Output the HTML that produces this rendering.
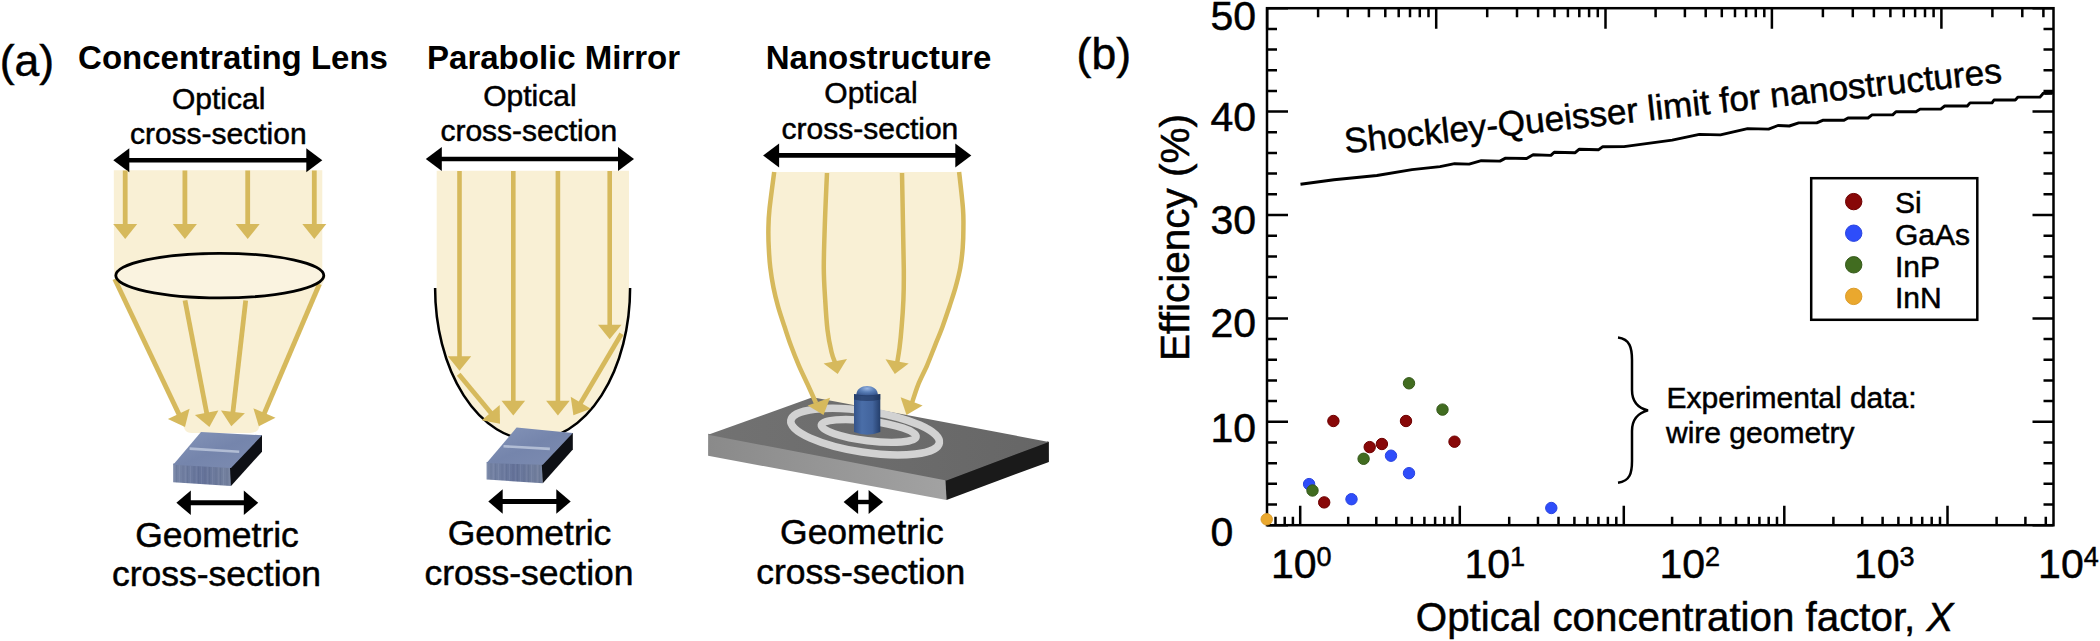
<!DOCTYPE html>
<html><head><meta charset="utf-8"><title>Optical concentration</title>
<style>html,body{margin:0;padding:0;background:#fff;width:2100px;height:641px;overflow:hidden}svg{display:block}text{stroke:#000;stroke-width:0.5px}text[font-weight=bold]{stroke-width:0}</style>
</head><body>
<svg width="2100" height="641" viewBox="0 0 2100 641" font-family="&apos;Liberation Sans&apos;, Arial, sans-serif">
<defs>
<linearGradient id="cellTop" x1="0" y1="0" x2="1" y2="1">
<stop offset="0" stop-color="#8595b9"/><stop offset="0.5" stop-color="#7585ac"/><stop offset="1" stop-color="#7d8cb1"/></linearGradient>
<linearGradient id="cellFront" x1="0" y1="0" x2="1" y2="0">
<stop offset="0" stop-color="#7886a6"/><stop offset="0.5" stop-color="#65739a"/><stop offset="1" stop-color="#76839f"/></linearGradient>
<pattern id="streak" width="11" height="40" patternUnits="userSpaceOnUse">
<rect x="0" y="0" width="1.3" height="40" fill="#3c4a6e" opacity="0.14"/><rect x="3" y="0" width="1" height="40" fill="#c0cae0" opacity="0.12"/><rect x="6.2" y="0" width="1.6" height="40" fill="#3c4a6e" opacity="0.1"/><rect x="9" y="0" width="0.8" height="40" fill="#c0cae0" opacity="0.1"/></pattern>
<linearGradient id="slabTop" x1="0" y1="0" x2="1" y2="0">
<stop offset="0" stop-color="#727272"/><stop offset="1" stop-color="#666666"/></linearGradient>
<linearGradient id="slabFront" x1="0" y1="0" x2="1" y2="0">
<stop offset="0" stop-color="#8a8a8a"/><stop offset="1" stop-color="#a2a2a2"/></linearGradient>
<linearGradient id="pillar" x1="0" y1="0" x2="1" y2="0">
<stop offset="0" stop-color="#34538a"/><stop offset="0.3" stop-color="#4a6ea8"/><stop offset="0.7" stop-color="#42649d"/><stop offset="1" stop-color="#243e6b"/></linearGradient>
<radialGradient id="dome" cx="0.5" cy="0.25" r="0.75">
<stop offset="0" stop-color="#9ab6e2"/><stop offset="0.45" stop-color="#5a7fb8"/><stop offset="1" stop-color="#34528a"/></radialGradient>
</defs>
<rect width="2100" height="641" fill="#fff"/>
<text x="-0.3" y="75.5" font-size="44.5" text-anchor="start" font-weight="normal" >(a)</text>
<text x="1076.6" y="69.4" font-size="44.5" text-anchor="start" font-weight="normal" >(b)</text>
<text x="233" y="68.5" font-size="33" text-anchor="middle" font-weight="bold" >Concentrating Lens</text>
<text x="218.7" y="109.3" font-size="30" text-anchor="middle" font-weight="normal" >Optical</text>
<text x="218.3" y="144.4" font-size="30" text-anchor="middle" font-weight="normal" >cross-section</text>
<path d="M113.8,170.2 H322.3 V276 L326,276 L258,430 Q255,433 250,433 H192 Q187,433 185,430 L114,276 Z" fill="#F9F0D5"/>
<line x1="128.3" y1="160.3" x2="307.3" y2="160.3" stroke="#000" stroke-width="4.6"/><polygon points="113.3,160.3 129.3,148.3 129.3,172.3" fill="#000"/><polygon points="322.3,160.3 306.3,148.3 306.3,172.3" fill="#000"/>
<line x1="125.2" y1="170.5" x2="125.2" y2="226.0" stroke="#D6B95C" stroke-width="4.8"/><polygon points="125.2,239.0 113.2,224.0 137.2,224.0" fill="#D6B95C"/>
<line x1="184.9" y1="170.5" x2="184.9" y2="226.0" stroke="#D6B95C" stroke-width="4.8"/><polygon points="184.9,239.0 172.9,224.0 196.9,224.0" fill="#D6B95C"/>
<line x1="247.7" y1="170.5" x2="247.7" y2="226.0" stroke="#D6B95C" stroke-width="4.8"/><polygon points="247.7,239.0 235.7,224.0 259.7,224.0" fill="#D6B95C"/>
<line x1="314.3" y1="170.5" x2="314.3" y2="226.0" stroke="#D6B95C" stroke-width="4.8"/><polygon points="314.3,239.0 302.3,224.0 326.3,224.0" fill="#D6B95C"/>
<line x1="114.7" y1="279.0" x2="179.6" y2="415.6" stroke="#D6B95C" stroke-width="4.8"/><polygon points="185.0,426.9 167.9,419.0 189.6,408.7" fill="#D6B95C"/>
<line x1="185.0" y1="300.4" x2="207.0" y2="414.6" stroke="#D6B95C" stroke-width="4.8"/><polygon points="209.4,426.9 194.9,414.9 218.4,410.4" fill="#D6B95C"/>
<line x1="245.7" y1="300.4" x2="232.7" y2="413.9" stroke="#D6B95C" stroke-width="4.8"/><polygon points="231.3,426.3 221.0,410.5 244.9,413.3" fill="#D6B95C"/>
<line x1="319.4" y1="284.0" x2="263.7" y2="414.8" stroke="#D6B95C" stroke-width="4.8"/><polygon points="258.8,426.3 253.4,408.3 275.5,417.7" fill="#D6B95C"/>
<ellipse cx="219.8" cy="275.6" rx="104" ry="22.3" fill="#FAF3E0" stroke="#000" stroke-width="2.8"/>
<polygon points="173.2,463.6 231,466.8 231,486 173.2,482.2" fill="url(#cellFront)"/><polygon points="173.2,464.8 231,468 231,486 173.2,482.2" fill="url(#streak)"/><polygon points="230,468 261,435.3 262,435.3 262,451.7 231,486" fill="#0e1015"/><polygon points="173.2,464.8 201,432 262,435.3 231,468" fill="url(#cellTop)"/><line x1="189.6" y1="448.6" x2="239.2" y2="451.7" stroke="#c5cfe2" stroke-width="2.6" opacity="0.75"/>
<line x1="189.8" y1="502.8" x2="244.79999999999998" y2="502.8" stroke="#000" stroke-width="5"/><polygon points="176.4,502.8 190.8,490.5 190.8,515.1" fill="#000"/><polygon points="258.2,502.8 243.79999999999998,490.5 243.79999999999998,515.1" fill="#000"/>
<text x="217" y="546.5" font-size="35.5" text-anchor="middle" font-weight="normal" >Geometric</text>
<text x="216.5" y="585.8" font-size="35.5" text-anchor="middle" font-weight="normal" >cross-section</text>
<text x="553.6" y="68.5" font-size="33" text-anchor="middle" font-weight="bold" >Parabolic Mirror</text>
<text x="529.9" y="106.3" font-size="30" text-anchor="middle" font-weight="normal" >Optical</text>
<text x="528.8" y="141.3" font-size="30" text-anchor="middle" font-weight="normal" >cross-section</text>
<path d="M436.7,170.7 H629 V288 H630.1 A97.5,152 0 0 1 435.1,288 H436.7 Z" fill="#F9F0D5"/>
<line x1="440.8" y1="159" x2="619" y2="159" stroke="#000" stroke-width="4.6"/><polygon points="425.8,159 441.8,147.0 441.8,171.0" fill="#000"/><polygon points="634,159 618,147.0 618,171.0" fill="#000"/>
<path d="M435.1,288 A97.5,152 0 0 0 630.1,288" fill="none" stroke="#000" stroke-width="2.5"/>
<line x1="459.5" y1="171.0" x2="459.5" y2="358.3" stroke="#D6B95C" stroke-width="4.6"/><polygon points="459.5,370.8 447.8,356.3 471.2,356.3" fill="#D6B95C"/>
<line x1="513.3" y1="171.0" x2="513.3" y2="402.8" stroke="#D6B95C" stroke-width="4.6"/><polygon points="513.3,415.5 501.5,400.8 525.1,400.8" fill="#D6B95C"/>
<line x1="557.9" y1="171.0" x2="557.9" y2="402.8" stroke="#D6B95C" stroke-width="4.6"/><polygon points="557.9,415.5 546.1,400.8 569.7,400.8" fill="#D6B95C"/>
<line x1="609.7" y1="171.0" x2="609.7" y2="326.7" stroke="#D6B95C" stroke-width="4.6"/><polygon points="609.7,339.2 598.0,324.7 621.5,324.7" fill="#D6B95C"/>
<line x1="458.7" y1="374.3" x2="492.0" y2="414.2" stroke="#D6B95C" stroke-width="4.8"/><polygon points="500.0,423.8 481.7,420.2 499.7,405.1" fill="#D6B95C"/>
<line x1="621.5" y1="333.7" x2="579.8" y2="404.4" stroke="#D6B95C" stroke-width="4.8"/><polygon points="573.4,415.2 570.7,396.7 590.9,408.7" fill="#D6B95C"/>
<polygon points="486.6,461.90000000000003 542.8,463.6 542.8,483.3 486.6,479.5" fill="url(#cellFront)"/><polygon points="486.6,463.1 542.8,464.8 542.8,483.3 486.6,479.5" fill="url(#streak)"/><polygon points="541.8,464.8 571.8,433.1 572.8,433.1 572.8,449.5 542.8,483.3" fill="#0e1015"/><polygon points="486.6,463.1 516.6,427.6 572.8,433.1 542.8,464.8" fill="url(#cellTop)"/><line x1="503.5" y1="446.2" x2="549.9" y2="448.9" stroke="#c5cfe2" stroke-width="2.6" opacity="0.75"/>
<line x1="501.7" y1="501.5" x2="557.3000000000001" y2="501.5" stroke="#000" stroke-width="5"/><polygon points="488.3,501.5 502.7,489.2 502.7,513.8" fill="#000"/><polygon points="570.7,501.5 556.3000000000001,489.2 556.3000000000001,513.8" fill="#000"/>
<text x="529.5" y="544.6" font-size="35.5" text-anchor="middle" font-weight="normal" >Geometric</text>
<text x="529" y="584.8" font-size="35.5" text-anchor="middle" font-weight="normal" >cross-section</text>
<text x="878.5" y="68.5" font-size="33" text-anchor="middle" font-weight="bold" >Nanostructure</text>
<text x="871" y="102.9" font-size="30" text-anchor="middle" font-weight="normal" >Optical</text>
<text x="869.9" y="139.1" font-size="30" text-anchor="middle" font-weight="normal" >cross-section</text>
<path d="M773.2,172 H960.1 L960.1,172.0 C960.8,178.2 963.3,199.6 964.0,209.0 C964.7,218.4 964.4,222.1 964.4,228.6 C964.4,235.1 964.2,241.5 963.7,248.0 C963.2,254.5 962.5,261.2 961.3,267.7 C960.1,274.2 958.4,280.7 956.6,287.2 C954.8,293.7 952.5,300.2 950.4,306.7 C948.2,313.2 946.1,319.7 943.7,326.2 C941.3,332.8 938.5,339.3 935.9,345.8 C933.3,352.3 930.9,358.8 928.1,365.3 C925.3,371.8 921.6,378.5 919.1,384.8 C916.6,391.1 914.0,400.0 913.0,403.0 L905,419 L827,419 L815.0,403.0 C813.6,400.0 809.7,391.1 806.8,384.8 C803.9,378.5 800.6,371.8 797.8,365.3 C795.0,358.8 792.4,352.3 790.0,345.8 C787.6,339.3 785.5,332.8 783.4,326.2 C781.2,319.7 778.9,313.2 777.1,306.7 C775.3,300.2 773.7,293.7 772.4,287.2 C771.1,280.7 770.1,274.2 769.3,267.7 C768.5,261.2 768.1,254.5 767.8,248.0 C767.4,241.5 767.3,235.1 767.4,228.6 C767.5,222.1 767.5,218.4 768.5,209.0 C769.5,199.6 772.4,178.2 773.2,172.0 Z" fill="#F9F0D5"/>
<line x1="778.1" y1="155.4" x2="956.3" y2="155.4" stroke="#000" stroke-width="4.6"/><polygon points="763.1,155.4 779.1,143.4 779.1,167.4" fill="#000"/><polygon points="971.3,155.4 955.3,143.4 955.3,167.4" fill="#000"/>
<path d="M827.0,173.0 C826.6,181.8 825.3,209.5 824.8,225.5 C824.3,241.5 823.7,256.6 823.8,269.0 C823.9,281.4 824.6,289.8 825.2,300.0 C825.8,310.2 826.5,321.3 827.5,330.0 C828.5,338.7 830.2,346.5 831.5,352.0 C832.8,357.5 834.6,361.2 835.2,363.0" fill="none" stroke="#D6B95C" stroke-width="4.5"/><polygon points="837.7,374.0 823.6,363.5 847.0,359.1" fill="#D6B95C"/>
<path d="M902.0,173.0 C902.2,181.8 902.7,209.5 903.0,225.5 C903.3,241.5 903.7,256.6 903.8,269.0 C903.9,281.4 903.8,290.5 903.4,300.0 C903.0,309.5 902.4,318.0 901.7,326.0 C901.1,334.0 900.3,341.8 899.5,348.0 C898.7,354.2 897.5,360.5 897.1,363.0" fill="none" stroke="#D6B95C" stroke-width="4.5"/><polygon points="894.8,374.0 885.5,359.2 908.7,363.4" fill="#D6B95C"/>
<polygon points="708.1,433.8 946.5,479.4 946.5,499.9 708.1,455.8" fill="url(#slabFront)"/>
<polygon points="945.5,479.9 1047.9,441.4 1048.9,441.9 1048.9,461.9 946.5,499.9" fill="#1a1a1a"/>
<polygon points="708.1,434.8 812.6,397.2 1048.9,441.9 946.5,480.4" fill="url(#slabTop)"/>
<ellipse cx="865.1" cy="431.6" rx="75.1" ry="20.7" fill="none" stroke="#d2d2d2" stroke-width="7.6" transform="rotate(8.6 865.1 431.6)"/>
<ellipse cx="868.7" cy="430.9" rx="47.8" ry="9.9" fill="none" stroke="#d2d2d2" stroke-width="7.4" transform="rotate(7 868.7 430.9)"/>
<path d="M854,394 Q867,396 880.3,394 V432 Q867,437.5 854,432 Z" fill="url(#pillar)"/>
<path d="M856.3,395 C856.3,383 877.9,383 877.9,395 Q867,397.5 856.3,395 Z" fill="url(#dome)"/>
<path d="M854,394 Q867,396.5 880.3,394 V399.5 Q867,402.5 854,399.5 Z" fill="#1b2f55" opacity="0.55"/>
<path d="M774.2,172.0 C773.4,178.2 770.5,199.6 769.5,209.0 C768.5,218.4 768.5,222.1 768.4,228.6 C768.3,235.1 768.4,241.5 768.8,248.0 C769.1,254.5 769.5,261.2 770.3,267.7 C771.1,274.2 772.1,280.7 773.4,287.2 C774.7,293.7 776.3,300.2 778.1,306.7 C779.9,313.2 782.2,319.7 784.4,326.2 C786.5,332.8 788.6,339.3 791.0,345.8 C793.4,352.3 796.0,358.8 798.8,365.3 C801.6,371.8 804.9,378.5 807.8,384.8 C810.7,391.1 814.6,400.0 816.0,403.0" fill="none" stroke="#D6B95C" stroke-width="4.5"/><polygon points="823.5,415.0 807.7,405.4 830.1,397.7" fill="#D6B95C"/>
<path d="M959.1,172.0 C959.8,178.2 962.3,199.6 963.0,209.0 C963.7,218.4 963.4,222.1 963.4,228.6 C963.4,235.1 963.2,241.5 962.7,248.0 C962.2,254.5 961.5,261.2 960.3,267.7 C959.1,274.2 957.4,280.7 955.6,287.2 C953.8,293.7 951.5,300.2 949.4,306.7 C947.2,313.2 945.1,319.7 942.7,326.2 C940.3,332.8 937.5,339.3 934.9,345.8 C932.3,352.3 929.9,358.8 927.1,365.3 C924.3,371.8 920.6,378.5 918.1,384.8 C915.6,391.1 913.0,400.0 912.0,403.0" fill="none" stroke="#D6B95C" stroke-width="4.5"/><polygon points="906.5,415.0 900.6,397.2 922.6,405.4" fill="#D6B95C"/>
<line x1="857.1" y1="502" x2="869.6" y2="502" stroke="#000" stroke-width="4.4"/><polygon points="843.6,502 858.1,490.0 858.1,514.0" fill="#000"/><polygon points="883.1,502 868.6,490.0 868.6,514.0" fill="#000"/>
<text x="861.9" y="543.6" font-size="35.5" text-anchor="middle" font-weight="normal" >Geometric</text>
<text x="860.7" y="583.9" font-size="35.5" text-anchor="middle" font-weight="normal" >cross-section</text>
<path d="M1267.0,525.2h21 M2053.5,525.2h-21 M1267.0,504.5h10 M2053.5,504.5h-10 M1267.0,483.8h10 M2053.5,483.8h-10 M1267.0,463.2h10 M2053.5,463.2h-10 M1267.0,442.5h10 M2053.5,442.5h-10 M1267.0,421.8h21 M2053.5,421.8h-21 M1267.0,401.1h10 M2053.5,401.1h-10 M1267.0,380.4h10 M2053.5,380.4h-10 M1267.0,359.8h10 M2053.5,359.8h-10 M1267.0,339.1h10 M2053.5,339.1h-10 M1267.0,318.4h21 M2053.5,318.4h-21 M1267.0,297.7h10 M2053.5,297.7h-10 M1267.0,277.0h10 M2053.5,277.0h-10 M1267.0,256.4h10 M2053.5,256.4h-10 M1267.0,235.7h10 M2053.5,235.7h-10 M1267.0,215.0h21 M2053.5,215.0h-21 M1267.0,194.3h10 M2053.5,194.3h-10 M1267.0,173.6h10 M2053.5,173.6h-10 M1267.0,153.0h10 M2053.5,153.0h-10 M1267.0,132.3h10 M2053.5,132.3h-10 M1267.0,111.6h21 M2053.5,111.6h-21 M1267.0,90.9h10 M2053.5,90.9h-10 M1267.0,70.2h10 M2053.5,70.2h-10 M1267.0,49.6h10 M2053.5,49.6h-10 M1267.0,28.9h10 M2053.5,28.9h-10 M1267.0,8.2h21 M2053.5,8.2h-21 M1300.2,525.2v-19.5 M1348.2,525.2v-8.5 M1376.3,525.2v-8.5 M1396.3,525.2v-8.5 M1411.8,525.2v-8.5 M1424.4,525.2v-8.5 M1435.1,525.2v-8.5 M1444.3,525.2v-8.5 M1452.5,525.2v-8.5 M1459.8,525.2v-19.5 M1509.2,525.2v-8.5 M1538.0,525.2v-8.5 M1558.5,525.2v-8.5 M1574.4,525.2v-8.5 M1587.4,525.2v-8.5 M1598.4,525.2v-8.5 M1607.9,525.2v-8.5 M1616.3,525.2v-8.5 M1623.8,525.2v-19.5 M1672.1,525.2v-8.5 M1700.4,525.2v-8.5 M1720.4,525.2v-8.5 M1736.0,525.2v-8.5 M1748.7,525.2v-8.5 M1759.4,525.2v-8.5 M1768.7,525.2v-8.5 M1777.0,525.2v-8.5 M1784.3,525.2v-19.5 M1833.4,525.2v-8.5 M1862.2,525.2v-8.5 M1882.6,525.2v-8.5 M1898.4,525.2v-8.5 M1911.3,525.2v-8.5 M1922.2,525.2v-8.5 M1931.7,525.2v-8.5 M1940.0,525.2v-8.5 M1947.5,525.2v-19.5 M1996.6,525.2v-8.5 M2025.4,525.2v-8.5 M2045.8,525.2v-8.5 M1275.5,525.2v-8.5 M1284.7,525.2v-8.5 M1292.9,525.2v-8.5 M1267.2,8.2v20.5 M1318.1,8.2v9 M1347.8,8.2v9 M1368.9,8.2v9 M1385.3,8.2v9 M1398.7,8.2v9 M1410.0,8.2v9 M1419.8,8.2v9 M1428.5,8.2v9 M1436.2,8.2v20.5 M1487.2,8.2v9 M1517.0,8.2v9 M1538.1,8.2v9 M1554.5,8.2v9 M1567.9,8.2v9 M1579.3,8.2v9 M1589.1,8.2v9 M1597.8,8.2v9 M1605.5,8.2v20.5 M1655.6,8.2v9 M1684.9,8.2v9 M1705.7,8.2v9 M1721.8,8.2v9 M1735.0,8.2v9 M1746.1,8.2v9 M1755.8,8.2v9 M1764.3,8.2v9 M1771.9,8.2v20.5 M1822.9,8.2v9 M1852.8,8.2v9 M1873.9,8.2v9 M1890.4,8.2v9 M1903.8,8.2v9 M1915.1,8.2v9 M1925.0,8.2v9 M1933.6,8.2v9 M1941.4,8.2v20.5 M1992.4,8.2v9 M2022.3,8.2v9 M2043.4,8.2v9" stroke="#000" stroke-width="2.5" fill="none"/>
<rect x="1267.0" y="8.2" width="786.5" height="517.0" fill="none" stroke="#000" stroke-width="2.5"/>
<text x="1210.5" y="546.2" font-size="41" text-anchor="start" font-weight="normal" >0</text>
<text x="1210.5" y="442.4" font-size="41" text-anchor="start" font-weight="normal" >10</text>
<text x="1210.5" y="337.1" font-size="41" text-anchor="start" font-weight="normal" >20</text>
<text x="1210.5" y="233.9" font-size="41" text-anchor="start" font-weight="normal" >30</text>
<text x="1210.5" y="130.9" font-size="41" text-anchor="start" font-weight="normal" >40</text>
<text x="1210.5" y="29.8" font-size="41" text-anchor="start" font-weight="normal" >50</text>
<text x="1271.0" y="578.2" font-size="41">10<tspan dy="-12" font-size="27">0</tspan></text>
<text x="1464.5" y="578.2" font-size="41">10<tspan dy="-12" font-size="27">1</tspan></text>
<text x="1659.5" y="578.2" font-size="41">10<tspan dy="-12" font-size="27">2</tspan></text>
<text x="1853.9" y="578.2" font-size="41">10<tspan dy="-12" font-size="27">3</tspan></text>
<text x="2038.1" y="578.2" font-size="41">10<tspan dy="-12" font-size="27">4</tspan></text>
<text x="1684.6" y="630.5" font-size="40.3" text-anchor="middle" font-weight="normal" >Optical concentration factor, <tspan font-style="italic">X</tspan></text>
<text transform="translate(1189.4,237.5) rotate(-90)" font-size="40.5" text-anchor="middle">Efficiency (%)</text>
<polyline points="1300.5,184.3 1334,179.8 1376.9,175.5 1412,169.6 1440,166.6 1454.6,163.7 1469.1,164.1 1481.3,160.7 1499.9,161.1 1505.6,158.1 1526.6,158.5 1533.1,154.8 1550.9,155.4 1554.2,152.2 1575.2,152.7 1579.3,149.2 1598.7,149.7 1602.8,146.7 1624,146.6 1672.2,140.1 1699.4,134.4 1720.4,134.9 1747.6,128.6 1768.6,129.1 1778,125.5 1789.3,126 1798.7,122.9 1816.7,122.9 1822.7,120.3 1844,120.3 1848,118 1868,118 1872,114.9 1892.7,114.9 1896,111.7 1916,111.7 1920,109.1 1940.7,109.1 1944.7,106 1967.3,106 1970,102.9 1992,102.9 1994,100 2015.3,100 2018,97.1 2040,97.1 2043.3,93.3 2053,92.5" fill="none" stroke="#000" stroke-width="2.9" stroke-linejoin="round"/>
<rect x="2044.5" y="90.6" width="8" height="4.2" fill="#000"/>
<text transform="translate(1345.5,153.3) rotate(-6.15)" font-size="35.2">Shockley-Queisser limit for nanostructures</text>
<rect x="1811.2" y="178.2" width="166.1" height="141.6" fill="#fff" stroke="#000" stroke-width="2.5"/>
<circle cx="1853.7" cy="201.6" r="8.2" fill="#880808" stroke="#6e0000" stroke-width="1"/>
<text x="1895" y="213.4" font-size="30" text-anchor="start" font-weight="normal" >Si</text>
<circle cx="1853.7" cy="233.2" r="8.2" fill="#2e4dfa" stroke="#2a44e0" stroke-width="1"/>
<text x="1895" y="245.0" font-size="30" text-anchor="start" font-weight="normal" >GaAs</text>
<circle cx="1853.7" cy="264.8" r="8.2" fill="#416c20" stroke="#35591a" stroke-width="1"/>
<text x="1895" y="276.6" font-size="30" text-anchor="start" font-weight="normal" >InP</text>
<circle cx="1853.7" cy="296.4" r="8.2" fill="#eaa82e" stroke="#dc9c2a" stroke-width="1"/>
<text x="1895" y="308.2" font-size="30" text-anchor="start" font-weight="normal" >InN</text>
<circle cx="1333.4" cy="421" r="5.7" fill="#880808" stroke="#6e0000" stroke-width="1"/>
<circle cx="1324.2" cy="502.4" r="5.7" fill="#880808" stroke="#6e0000" stroke-width="1"/>
<circle cx="1369.7" cy="447.1" r="5.7" fill="#880808" stroke="#6e0000" stroke-width="1"/>
<circle cx="1381.9" cy="444" r="5.7" fill="#880808" stroke="#6e0000" stroke-width="1"/>
<circle cx="1406" cy="421" r="5.7" fill="#880808" stroke="#6e0000" stroke-width="1"/>
<circle cx="1454.5" cy="441.7" r="5.7" fill="#880808" stroke="#6e0000" stroke-width="1"/>
<circle cx="1309.1" cy="484.1" r="5.7" fill="#2e4dfa" stroke="#2a44e0" stroke-width="1"/>
<circle cx="1351.5" cy="499.2" r="5.7" fill="#2e4dfa" stroke="#2a44e0" stroke-width="1"/>
<circle cx="1391" cy="455.7" r="5.7" fill="#2e4dfa" stroke="#2a44e0" stroke-width="1"/>
<circle cx="1409" cy="473.2" r="5.7" fill="#2e4dfa" stroke="#2a44e0" stroke-width="1"/>
<circle cx="1551.3" cy="508" r="5.7" fill="#2e4dfa" stroke="#2a44e0" stroke-width="1"/>
<circle cx="1312.5" cy="490.5" r="5.7" fill="#416c20" stroke="#35591a" stroke-width="1"/>
<circle cx="1363.6" cy="458.8" r="5.7" fill="#416c20" stroke="#35591a" stroke-width="1"/>
<circle cx="1409" cy="383.3" r="5.7" fill="#416c20" stroke="#35591a" stroke-width="1"/>
<circle cx="1442.5" cy="409.6" r="5.7" fill="#416c20" stroke="#35591a" stroke-width="1"/>
<circle cx="1266.7" cy="519.3" r="5.7" fill="#eaa82e" stroke="#dc9c2a" stroke-width="1"/>
<path d="M1618,337.5 C1630,339 1632,348 1632,360 V390 C1632,402 1638,408 1648,410.4 C1638,413 1632,419 1632,431 V461 C1632,473 1630,481 1618,482.8" fill="none" stroke="#000" stroke-width="2.5"/>
<text x="1666.5" y="407.7" font-size="30" text-anchor="start" font-weight="normal" >Experimental data:</text>
<text x="1666" y="442.6" font-size="30" text-anchor="start" font-weight="normal" >wire geometry</text>
</svg>
</body></html>
